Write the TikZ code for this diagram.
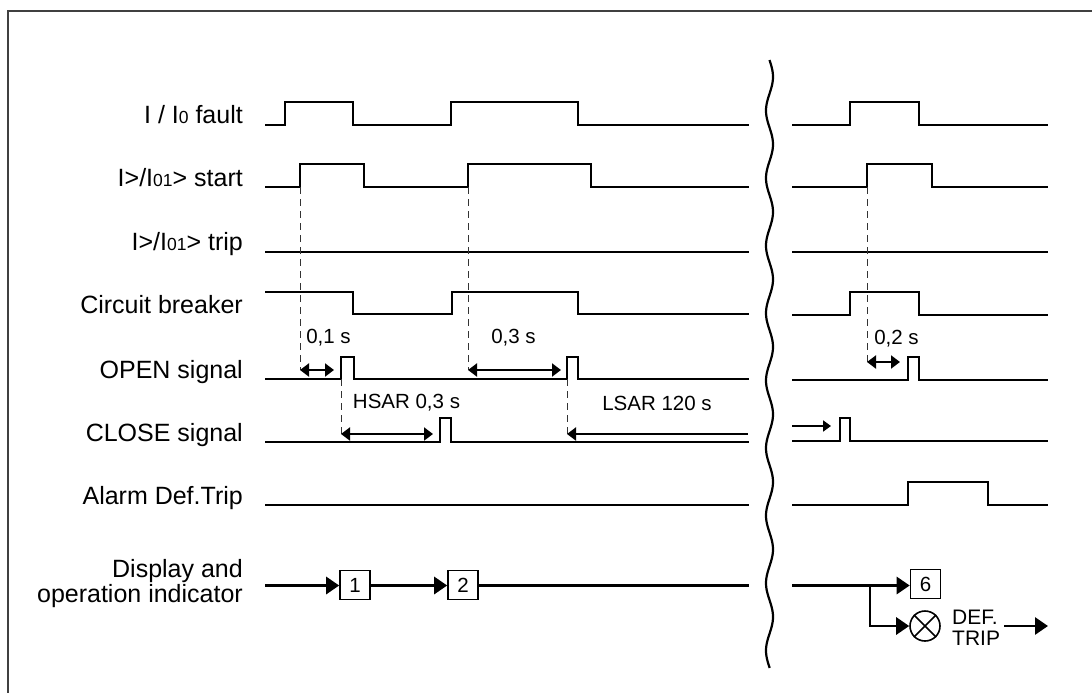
\documentclass[tikz,border=0pt]{standalone}
\usepackage{fontspec}
\setmainfont{Liberation Sans}
\usetikzlibrary{arrows.meta}

% smaller digits of the index in I0 / I01
\newcommand\idx[1]{{\fontsize{17.5}{17.5}\selectfont #1}}

\begin{document}
\begin{tikzpicture}[x=1pt,y=-1pt,
  frame/.style={line width=1.5pt, black!75},
  sig/.style={line width=2.8pt, line join=miter},
  lbl/.style={anchor=base east, inner sep=0pt, align=right,
              font=\fontsize{25}{22}\selectfont},
  dimtext/.style={inner sep=0pt, font=\fontsize{20.5}{24}\selectfont},
  guide/.style={line width=1pt, black!80, dash pattern=on 7pt off 5pt},
  meas/.style={line width=2pt,
     {Triangle[length=9pt,width=13pt]}-{Triangle[length=9pt,width=13pt]}},
  measl/.style={line width=2pt, {Triangle[length=9pt,width=13pt]}-},
  small arrow/.style={line width=2pt, -{Triangle[length=8pt,width=11pt]}},
  flow/.style={line width=2.8pt, line join=miter,
     -{Triangle[length=13pt,width=17pt]}},
  numbox/.style={draw, line width=1.6pt, minimum width=30pt,
     minimum height=29pt, inner sep=0pt, fill=white,
     font=\fontsize{20.5}{20.5}\selectfont},
  lamp/.style={circle, draw, line width=1.6pt, minimum size=30pt, inner sep=0pt},
  brk/.style={line width=2.2pt},
]
\useasboundingbox (0,0) rectangle (1092,693);

% open frame (top and left edges)
\draw[frame] (8,693) -- (8,11) -- (1092,11);

% ---------- row labels ----------
\node[lbl] (lfault) at (243,123.5) {I / I\idx{0} fault};
\node[lbl] (lstart) at (243,186)   {I>/I\idx{01}> start};
\node[lbl] (ltrip)  at (243,250)   {I>/I\idx{01}> trip};
\node[lbl] (lcb)    at (243,313)   {Circuit breaker};
\node[lbl] (lopen)  at (243,378)   {OPEN signal};
\node[lbl] (lclose) at (243,441)   {CLOSE signal};
\node[lbl] (lalarm) at (243,504)   {Alarm Def.Trip};
\node[lbl] (ldisp)  at (243,602)   {Display and\\operation indicator};

% ---------- waveforms, first part ----------
\draw[sig] (265,125) -- (285,125) -- (285,102) -- (353,102) -- (353,125)
           -- (451,125) -- (451,102) -- (578,102) -- (578,125) -- (749,125);
\draw[sig] (265,187) -- (300,187) -- (300,164) -- (364,164) -- (364,187)
           -- (468,187) -- (468,164) -- (591,164) -- (591,187) -- (749,187);
\draw[sig] (265,252) -- (749,252);
\draw[sig] (265,292) -- (353,292) -- (353,314) -- (452,314) -- (452,292)
           -- (578,292) -- (578,314) -- (749,314);
\draw[sig] (265,379) -- (341,379) -- (341,357) -- (354,357) -- (354,379)
           -- (567,379) -- (567,357) -- (578,357) -- (578,379) -- (749,379);
\draw[sig] (265,442) -- (440,442) -- (440,418) -- (451,418) -- (451,442)
           -- (749,442);
\draw[sig] (265,505) -- (749,505);

% ---------- waveforms, second part ----------
\draw[sig] (792,125) -- (850,125) -- (850,102) -- (919,102) -- (919,125) -- (1048,125);
\draw[sig] (792,187) -- (867,187) -- (867,164) -- (932,164) -- (932,187) -- (1048,187);
\draw[sig] (792,252) -- (1048,252);
\draw[sig] (792,315) -- (850,315) -- (850,292) -- (919,292) -- (919,315) -- (1048,315);
\draw[sig] (792,380) -- (908,380) -- (908,357) -- (919,357) -- (919,380) -- (1048,380);
\draw[sig] (792,441) -- (840,441) -- (840,418) -- (850,418) -- (850,441) -- (1048,441);
\draw[sig] (792,505) -- (908,505) -- (908,482) -- (988,482) -- (988,505) -- (1048,505);

% ---------- timing guides ----------
\coordinate (s1) at (300,187);  \coordinate (s1b) at (300,370);
\coordinate (s2) at (468,187);  \coordinate (s2b) at (468,370);
\coordinate (o1) at (341,379);  \coordinate (o1b) at (341,434);
\coordinate (o2) at (567,379);  \coordinate (o2b) at (567,434);
\coordinate (s3) at (867,187);  \coordinate (s3b) at (867,362);
\draw[guide] (s1) -- (s1b);
\draw[guide] (s2) -- (s2b);
\draw[guide] (o1) -- (o1b);
\draw[guide] (o2) -- (o2b);
\draw[guide] (s3) -- (s3b);

% ---------- time intervals ----------
\coordinate (t1) at (334,370);
\coordinate (t2) at (561,370);
\coordinate (t3) at (433,434);
\coordinate (t4) at (748,434);
\coordinate (t5) at (900,362);
\draw[meas]  (s1b) -- (t1);
\draw[meas]  (s2b) -- (t2);
\draw[meas]  (o1b) -- (t3);
\draw[measl] (o2b) -- (t4);
\draw[meas]  (s3b) -- (t5);
\node[dimtext] (d01)  at (328.5,338) {0,1 s};
\node[dimtext] (d03)  at (513.5,338) {0,3 s};
\node[dimtext] (dh)   at (406.5,403) {HSAR 0,3 s};
\node[dimtext] (dl)   at (657,403)   {LSAR 120 s};
\node[dimtext] (d02)  at (896.5,339) {0,2 s};

% reclosing continues after the break
\coordinate (c0) at (792,426);
\coordinate (c1) at (831,426);
\draw[small arrow] (c0) -- (c1);

% ---------- display and operation indicator ----------
\coordinate (d0) at (265,585.5);
\coordinate (dend) at (749,585.5);
\node[numbox] (b1) at (355,585) {1};
\node[numbox] (b2) at (463,585) {2};
\draw[flow] (d0) -- (b1.west |- d0);
\draw[flow] (b1.east |- d0) -- (b2.west |- d0);
\draw[sig]  (b2.east |- d0) -- (dend);

\coordinate (r0) at (792,585.5);
\coordinate (br) at (870,585.5);
\node[numbox] (b6) at (925.5,584) {6};
\node[lamp] (lampx) at (925,626) {};
\draw[line width=1.6pt] (lampx.north west) -- (lampx.south east)
                        (lampx.north east) -- (lampx.south west);
\draw[flow] (r0) -- (b6.west |- r0);
\draw[flow] (br) |- (lampx.west);
\node[anchor=west, inner sep=0pt, align=left,
      font=\fontsize{21}{20.5}\selectfont] (dt) at (952,628) {DEF.\\TRIP};
\coordinate (dtend) at (1048,626);
\draw[flow] (dt.east |- lampx) ++(4,0) -- (dtend);

% ---------- time break ----------
\draw[brk] plot[domain=60:668, samples=240, smooth]
     ({769.5 + 3.5*sin(5.3333*(\x-60))}, \x);
\end{tikzpicture}
\end{document}
